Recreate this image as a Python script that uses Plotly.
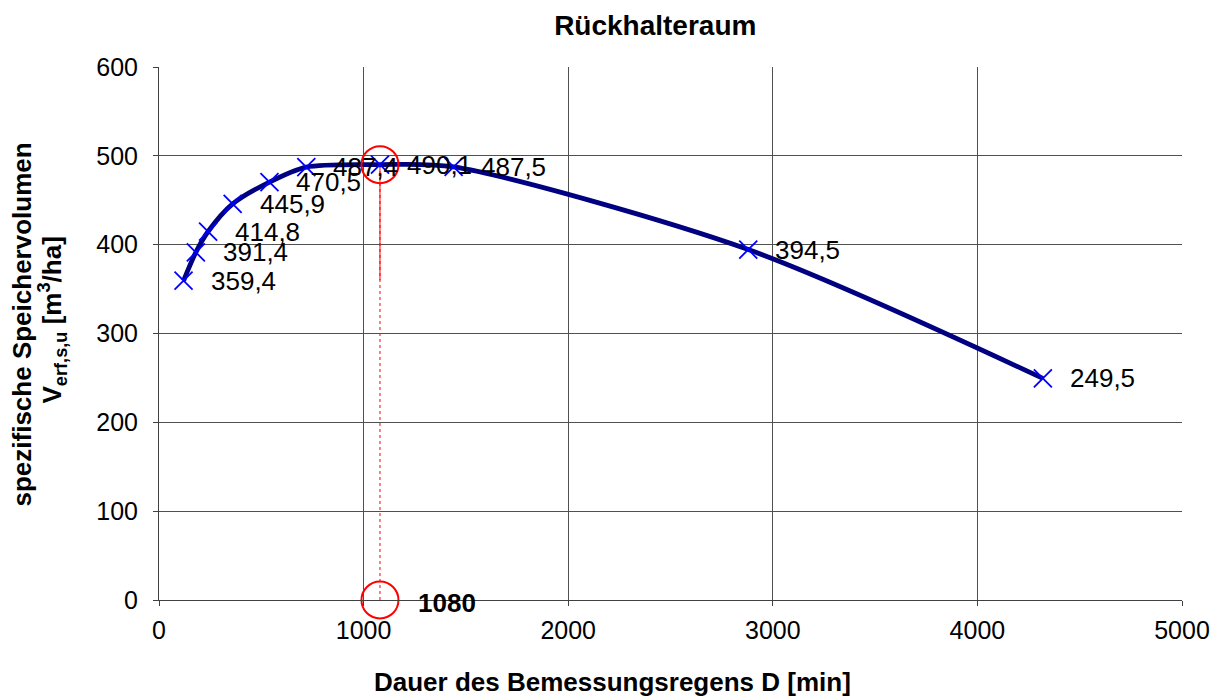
import plotly.graph_objects as go

dauer = [120, 180, 240, 360, 540, 720, 1080, 1440, 2880, 4320]
volumen = [359.4, 391.4, 414.8, 445.9, 470.5, 487.4, 490.1, 487.5, 394.5, 249.5]
labels = ["359,4", "391,4", "414,8", "445,9", "470,5", "487,4", "490,1", "487,5", "394,5", "249,5"]

d_opt = 1080
v_opt = 490.1
v_seg_low = 360
x_ticks = [0, 1000, 2000, 3000, 4000, 5000]
y_ticks = [0, 100, 200, 300, 400, 500, 600]

FONT = "Liberation Sans, Arial, sans-serif"

fig = go.Figure()

# red dotted vertical line
fig.add_trace(go.Scatter(x=[d_opt, d_opt], y=[0, v_opt], mode="lines",
                         line=dict(color="#FF0000", width=1, dash="dot"),
                         showlegend=False, hoverinfo="skip"))
fig.add_trace(go.Scatter(x=[d_opt, d_opt], y=[v_seg_low, v_opt], mode="lines",
                         line=dict(color="#FF0000", width=1),
                         showlegend=False, hoverinfo="skip"))

# main curve
fig.add_trace(go.Scatter(x=dauer, y=volumen, mode="lines",
                         line=dict(color="#000080", width=4.8, shape="spline", smoothing=0.8),
                         showlegend=False))
fig.add_trace(go.Scatter(x=dauer, y=volumen, mode="markers",
                         marker=dict(symbol="x-thin-open", size=18,
                                     line=dict(color="#0000FF", width=1.8), color="#0000FF"),
                         showlegend=False))

# red circles
fig.add_trace(go.Scatter(x=[d_opt, d_opt], y=[v_opt, 0], mode="markers",
                         marker=dict(symbol="circle-open", size=37,
                                     line=dict(color="#FF0000", width=2), color="#FF0000"),
                         showlegend=False, cliponaxis=False))

for x, y, t in zip(dauer, volumen, labels):
    fig.add_annotation(x=x, y=y, text=t, showarrow=False, xanchor="left", yanchor="middle",
                       xshift=25, font=dict(family=FONT, size=26, color="black"))

fig.add_annotation(x=d_opt, y=0, text="<b>1080</b>", showarrow=False, xanchor="left",
                   yanchor="middle", xshift=36, yshift=-3,
                   font=dict(family=FONT, size=26, color="black"))

# axis titles as annotations
fig.add_annotation(xref="paper", yref="paper", x=0.5, y=0, xshift=-58, yshift=-82,
                   xanchor="center", yanchor="middle", showarrow=False,
                   text="<b>Dauer des Bemessungsregens D [min]</b>",
                   font=dict(family=FONT, size=26, color="black"))
fig.add_annotation(xref="paper", yref="paper", x=0, y=0.5, xshift=-138, yshift=9,
                   xanchor="center", yanchor="middle", showarrow=False, textangle=-90,
                   text="<b>spezifische Speichervolumen</b>",
                   font=dict(family=FONT, size=26, color="black"))
fig.add_annotation(xref="paper", yref="paper", x=0, y=0.5, xshift=-107, yshift=13,
                   xanchor="center", yanchor="middle", showarrow=False, textangle=-90,
                   text="<b>V<sub>erf,s,u</sub> [m<sup>3</sup>/ha]</b>",
                   font=dict(family=FONT, size=26, color="black"))

fig.update_layout(
    width=1219, height=697,
    margin=dict(l=151, r=45, t=59, b=105),
    paper_bgcolor="white", plot_bgcolor="white",
    title=dict(text="<b>Rückhalteraum</b>", x=0.531, xanchor="center", y=0.975, yanchor="middle",
               font=dict(family=FONT, size=28, color="black")),
    font=dict(family=FONT, color="black"),
)

fig.update_xaxes(range=[0, 5000], tickvals=x_ticks, ticktext=[str(v) for v in x_ticks],
                 showgrid=True, gridcolor="#505050", gridwidth=1,
                 showline=True, linecolor="#404040", linewidth=1, mirror=False,
                 zeroline=False, ticks="outside", ticklen=5, tickcolor="#404040",
                 ticklabelstandoff=3,
                 tickfont=dict(family=FONT, size=25, color="black"))
fig.update_yaxes(range=[0, 600], tickvals=y_ticks, ticktext=[str(v) for v in y_ticks],
                 showgrid=True, gridcolor="#505050", gridwidth=1,
                 showline=True, linecolor="#404040", linewidth=1,
                 zeroline=True, zerolinecolor="#202020", zerolinewidth=2,
                 ticks="outside", ticklen=5, tickcolor="#404040",
                 ticklabelstandoff=10,
                 tickfont=dict(family=FONT, size=25, color="black"))

fig.write_html("out.html")
